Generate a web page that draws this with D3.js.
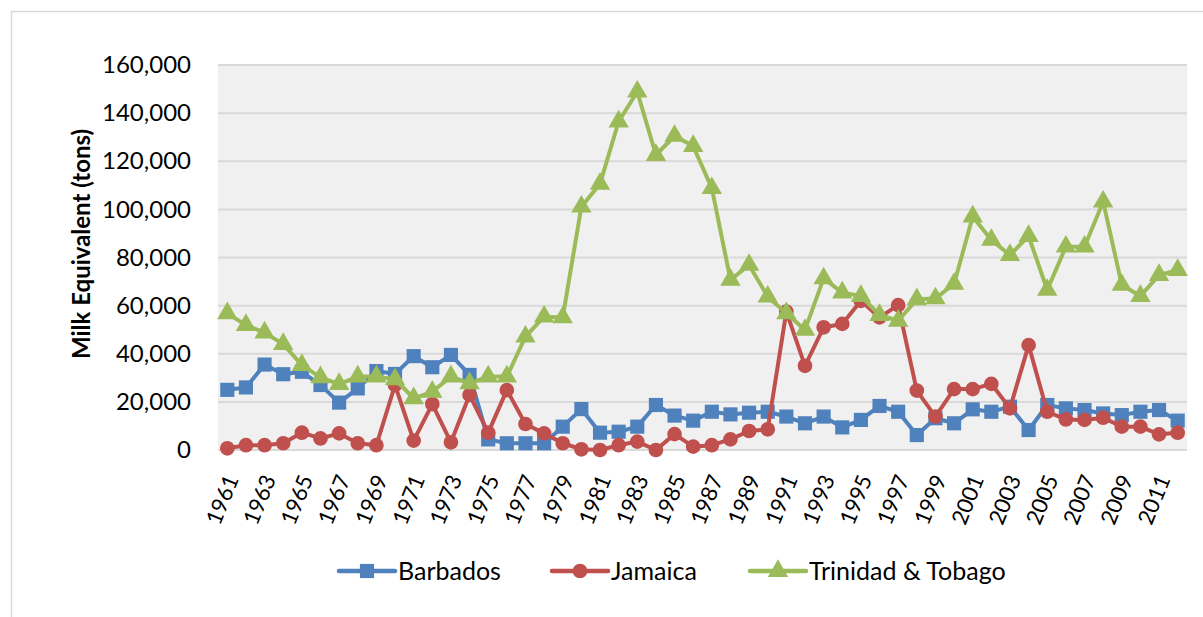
<!DOCTYPE html>
<html lang="en">
  <head>
    <meta charset="UTF-8" />
    <title>Milk Equivalent</title>
    <style>
      body { margin: 0; background: #fff; }
      text { font-family: Lato, "Open Sans", sans-serif; fill: #000; }
      .grid line { stroke: #d9d9d9; stroke-width: 2px; }
      .series { fill: none; stroke-width: 4px; stroke-linejoin: round; }
    </style>
  </head>
  <body>
    <script src="https://cdn.jsdelivr.net/npm/d3@7"></script>
    <script>

      var years = d3.range(1961, 2013);

      var barbados = [25000, 26000, 35500, 31500, 32500, 27000, 19700, 25600, 32800, 31600,
                      39000, 34400, 39500, 31200, 4400, 2800, 2800, 2800, 9700, 17000,
                      7200, 7600, 9700, 18700, 14300, 12200, 15900, 14800, 15500, 15900,
                      13900, 11100, 13900, 9400, 12500, 18300, 15900, 6200, 13200, 11100,
                      16900, 15900, 18000, 8300, 18700, 17300, 16600, 15200, 14500, 15900,
                      16600, 12200];

      var jamaica = [700, 2000, 2000, 2800, 7200, 4800, 6900, 2800, 2000, 27000,
                     3900, 19100, 3200, 22900, 7200, 24900, 10800, 6900, 2800, 300,
                     0, 2000, 3500, 0, 6600, 1400, 2000, 4400, 7900, 8600,
                     57500, 35000, 51000, 52400, 62000, 55100, 60200, 24700, 13900, 25300,
                     25300, 27500, 17300, 43600, 15900, 12700, 12500, 13400, 9700, 9700,
                     6500, 7200];

      var trinidad = [56800, 51900, 48800, 44000, 35300, 30200, 27400, 30500, 30500, 29400,
                      21500, 24200, 30500, 27700, 30500, 30500, 47100, 55400, 55100, 101100,
                      110600, 136500, 148900, 122600, 130500, 126300, 108800, 70700, 76900, 63700,
                      56800, 49900, 71300, 65400, 64000, 56100, 53700, 62600, 63000, 69000,
                      97000, 87300, 81000, 88900, 66500, 84500, 84500, 103200, 68600, 64000,
                      72700, 74800];

      var seriesNames = ["Barbados", "Jamaica", "Trinidad & Tobago"];
      var seriesColors = ["#4f81bd", "#c0504d", "#9bbb59"];
      var seriesShapes = [d3.symbolSquare, d3.symbolCircle, d3.symbolTriangle];
      var seriesSizes = [200, 170, 180];
      var yTicks = [0, 20000, 40000, 60000, 80000, 100000, 120000, 140000, 160000];

      var w = 1203, h = 617;
      var margin = { top: 65, right: 16, bottom: 167, left: 218 };

      var svg = d3.select("body").append("svg")
        .attr("width", w)
        .attr("height", h);

      // chart border
      svg.append("rect")
        .attr("x", 11.5).attr("y", 11.5)
        .attr("width", w + 20).attr("height", h + 20)
        .attr("fill", "#fff")
        .attr("stroke", "#d9d9d9")
        .attr("stroke-width", 1.5);

      var plotW = w - margin.left - margin.right,
          plotH = h - margin.top - margin.bottom;

      var xScale = d3.scalePoint()
        .domain(years)
        .range([0, plotW])
        .padding(0.5);

      var yScale = d3.scaleLinear()
        .domain([0, 160000])
        .range([plotH, 0]);

      var g = svg.append("g")
        .attr("transform", "translate(" + margin.left + "," + margin.top + ")");

      g.append("rect")
        .attr("width", plotW)
        .attr("height", plotH)
        .attr("fill", "#f0f0f0");

      g.append("g")
        .attr("class", "grid")
        .selectAll("line")
        .data(yTicks)
        .enter()
        .append("line")
        .attr("x1", 0)
        .attr("x2", plotW)
        .attr("y1", function(d) { return yScale(d); })
        .attr("y2", function(d) { return yScale(d); });

      // y axis labels
      var yAxis = d3.axisLeft(yScale)
        .tickValues(yTicks)
        .tickSize(0)
        .tickPadding(27)
        .tickFormat(d3.format(","));

      g.append("g")
        .call(yAxis)
        .call(function(s) { s.select(".domain").remove(); })
        .selectAll("text")
        .style("font-family", "Lato, sans-serif")
        .style("font-size", "24px")
        .attr("fill", "#000");

      // x axis labels (every other year)
      var xAxis = d3.axisBottom(xScale)
        .tickValues(years.filter(function(d, i) { return i % 2 === 0; }))
        .tickSize(0)
        .tickFormat(d3.format("d"));

      g.append("g")
        .attr("transform", "translate(0," + plotH + ")")
        .call(xAxis)
        .call(function(s) { s.select(".domain").remove(); })
        .selectAll("text")
        .style("font-family", "Lato, sans-serif")
        .style("font-size", "22px")
        .attr("fill", "#000")
        .attr("text-anchor", "end")
        .attr("dy", "0.35em")
        .attr("transform", "translate(4,26) rotate(-68)")
        .attr("x", 0)
        .attr("y", 0);

      // y title
      svg.append("text")
        .attr("transform", "translate(82,244) rotate(-90)")
        .attr("text-anchor", "middle")
        .attr("dy", "0.35em")
        .style("font-size", "24px")
        .style("font-weight", "bold")
        .text("Milk Equivalent (tons)");

      var allSeries = [barbados, jamaica, trinidad];

      var line = d3.line()
        .x(function(d, i) { return xScale(years[i]); })
        .y(function(d) { return yScale(d); });

      allSeries.forEach(function(values, k) {
        var sg = g.append("g");

        sg.append("path")
          .datum(values)
          .attr("class", "series")
          .attr("stroke", seriesColors[k])
          .attr("d", line);

        sg.selectAll("path.mark")
          .data(values)
          .enter()
          .append("path")
          .attr("class", "mark")
          .attr("fill", seriesColors[k])
          .attr("transform", function(d, i) {
            return "translate(" + xScale(years[i]) + "," + yScale(d) + ")";
          })
          .attr("d", d3.symbol().type(seriesShapes[k]).size(seriesSizes[k]));
      });

      // legend
      var legendX = [339, 552, 750];
      var legend = svg.append("g")
        .attr("transform", "translate(0,571)");

      seriesNames.forEach(function(name, k) {
        var lg = legend.append("g")
          .attr("transform", "translate(" + legendX[k] + ",0)");

        lg.append("line")
          .attr("x1", 0).attr("x2", 56)
          .attr("stroke", seriesColors[k])
          .attr("stroke-width", 4.5)
          .attr("stroke-linecap", "round");

        lg.append("path")
          .attr("transform", "translate(28,0)")
          .attr("fill", seriesColors[k])
          .attr("d", d3.symbol().type(seriesShapes[k]).size(seriesSizes[k]));

        lg.append("text")
          .attr("x", 59)
          .attr("dy", "0.35em")
          .style("font-size", "25px")
          .text(name);
      });

    </script>
  </body>
</html>
